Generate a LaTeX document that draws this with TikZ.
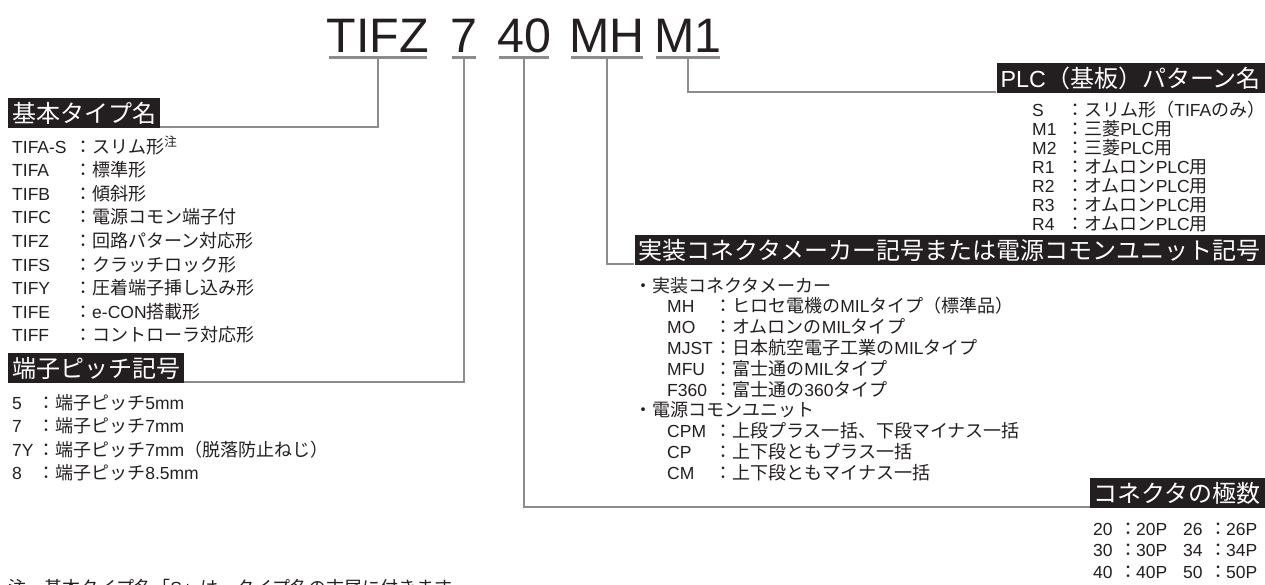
\documentclass[tikz,border=0pt]{standalone}
\usepackage{fontspec}
\setmainfont{Liberation Sans}
\newfontfamily\jp[Scale=1.03]{Noto Sans CJK JP}
\usetikzlibrary{calc}
\definecolor{ink}{HTML}{231F20}
\definecolor{leadgray}{HTML}{8C8C8C}

\begin{document}
\begin{tikzpicture}[x=1pt,y=-1pt,
    code/.style={font=\fontsize{48.4}{48.4}\selectfont, text=ink, inner sep=0pt, anchor=base},
    head/.style={fill=ink, text=white, font=\fontsize{23.3}{23.3}\selectfont, inner xsep=4pt, inner ysep=0pt, text height=24pt, text depth=6pt},
    item/.style={font=\fontsize{17.5}{20}\selectfont, text=ink, inner sep=0pt, anchor=base west},
    leader/.style={draw=leadgray, line width=2.6pt},
    underline/.style={leader, shorten <=2pt, shorten >=2pt}]
            \useasboundingbox (0,0) rectangle (1265,584);

            % Draw the type code
            \node[code] (code-type) at (378,52) {TIFZ};
            \node[code] (code-pitch) at (464,52) {7};
            \node[code] (code-poles) at (524,52) {40};
            \node[code] (code-maker) at (607,52) {MH};
            \node[code] (code-plc) at (688,52) {M1};
            \draw[underline] ([yshift=-5.5pt]code-type.base west) -- coordinate (u-type) ([yshift=-5.5pt]code-type.base east);
            \draw[underline] ([yshift=-5.5pt]code-pitch.base west) -- coordinate (u-pitch) ([yshift=-5.5pt]code-pitch.base east);
            \draw[underline] ([yshift=-5.5pt]code-poles.base west) -- coordinate (u-poles) ([yshift=-5.5pt]code-poles.base east);
            \draw[underline] ([yshift=-5.5pt]code-maker.base west) -- coordinate (u-maker) ([yshift=-5.5pt]code-maker.base east);
            \draw[underline] ([yshift=-5.5pt]code-plc.base west) -- coordinate (u-plc) ([yshift=-5.5pt]code-plc.base east);

            % Draw the headings
            \node[head, anchor=north west] (head-type) at (8,98) {\jp 基本タイプ名};
            \node[head, anchor=north west] (head-pitch) at (8,353) {\jp 端子ピッチ記号};
            \node[head, anchor=north east] (head-plc) at (1265,63) {PLC{\jp （基板）パターン名}};
            \node[head, anchor=north east] (head-maker) at (1265,235) {\jp 実装コネクタメーカー記号または電源コモンユニット記号};
            \node[head, anchor=north east] (head-poles) at (1265,478) {\jp コネクタの極数};

            % Draw the leaders
            \draw[leader] (u-type) |- ([yshift=1.3pt]head-type.south east);
            \draw[leader] (u-pitch) |- ([yshift=1.3pt]head-pitch.south east);
            \draw[leader] (u-poles) |- ([yshift=1.3pt]head-poles.south west);
            \draw[leader] (u-maker) |- ([yshift=1.3pt]head-maker.south west);
            \draw[leader] (u-plc) |- ([yshift=1.3pt]head-plc.south west);

            % Label the basic types
            \node[item] (type-as) at (12,153) {\makebox[62pt][l]{TIFA-S}\makebox[18pt]{\jp ：}{\jp スリム形}\textsuperscript{\jp 注}};
            \node[item] (type-a) at (12,176.6) {\makebox[62pt][l]{TIFA}\makebox[18pt]{\jp ：}{\jp 標準形}};
            \node[item] (type-b) at (12,200.2) {\makebox[62pt][l]{TIFB}\makebox[18pt]{\jp ：}{\jp 傾斜形}};
            \node[item] (type-c) at (12,223.8) {\makebox[62pt][l]{TIFC}\makebox[18pt]{\jp ：}{\jp 電源コモン端子付}};
            \node[item] (type-z) at (12,247.4) {\makebox[62pt][l]{TIFZ}\makebox[18pt]{\jp ：}{\jp 回路パターン対応形}};
            \node[item] (type-s) at (12,271) {\makebox[62pt][l]{TIFS}\makebox[18pt]{\jp ：}{\jp クラッチロック形}};
            \node[item] (type-y) at (12,294.6) {\makebox[62pt][l]{TIFY}\makebox[18pt]{\jp ：}{\jp 圧着端子挿し込み形}};
            \node[item] (type-e) at (12,318.2) {\makebox[62pt][l]{TIFE}\makebox[18pt]{\jp ：}e-CON{\jp 搭載形}};
            \node[item] (type-f) at (12,341.8) {\makebox[62pt][l]{TIFF}\makebox[18pt]{\jp ：}{\jp コントローラ対応形}};

            % Label the pitches
            \node[item] (pitch-5) at (12,409) {\makebox[25pt][l]{5}\makebox[18pt]{\jp ：}{\jp 端子ピッチ}5mm};
            \node[item] (pitch-7) at (12,432.6) {\makebox[25pt][l]{7}\makebox[18pt]{\jp ：}{\jp 端子ピッチ}7mm};
            \node[item] (pitch-7y) at (12,456.2) {\makebox[25pt][l]{7Y}\makebox[18pt]{\jp ：}{\jp 端子ピッチ}7mm{\jp （脱落防止ねじ）}};
            \node[item] (pitch-8) at (12,479.8) {\makebox[25pt][l]{8}\makebox[18pt]{\jp ：}{\jp 端子ピッチ}8.5mm};

            % Label the PLC patterns
            \node[item] (plc-s) at (1032,116) {\makebox[34pt][l]{S}\makebox[18pt]{\jp ：}{\jp スリム形（}TIFA{\jp のみ）}};
            \node[item] (plc-m1) at (1032,135) {\makebox[34pt][l]{M1}\makebox[18pt]{\jp ：}{\jp 三菱}PLC{\jp 用}};
            \node[item] (plc-m2) at (1032,154) {\makebox[34pt][l]{M2}\makebox[18pt]{\jp ：}{\jp 三菱}PLC{\jp 用}};
            \node[item] (plc-r1) at (1032,173) {\makebox[34pt][l]{R1}\makebox[18pt]{\jp ：}{\jp オムロン}PLC{\jp 用}};
            \node[item] (plc-r2) at (1032,192) {\makebox[34pt][l]{R2}\makebox[18pt]{\jp ：}{\jp オムロン}PLC{\jp 用}};
            \node[item] (plc-r3) at (1032,211) {\makebox[34pt][l]{R3}\makebox[18pt]{\jp ：}{\jp オムロン}PLC{\jp 用}};
            \node[item] (plc-r4) at (1032,230) {\makebox[34pt][l]{R4}\makebox[18pt]{\jp ：}{\jp オムロン}PLC{\jp 用}};

            % Label the makers and common units
            \node[item] (maker-mil) at (634,292) {\jp ・実装コネクタメーカー};
            \node[item] (maker-mh) at (667,312.8) {\makebox[47pt][l]{MH}\makebox[18pt]{\jp ：}{\jp ヒロセ電機の}MIL{\jp タイプ（標準品）}};
            \node[item] (maker-mo) at (667,333.6) {\makebox[47pt][l]{MO}\makebox[18pt]{\jp ：}{\jp オムロンの}MIL{\jp タイプ}};
            \node[item] (maker-mjst) at (667,354.4) {\makebox[47pt][l]{MJST}\makebox[18pt]{\jp ：}{\jp 日本航空電子工業の}MIL{\jp タイプ}};
            \node[item] (maker-mfu) at (667,375.2) {\makebox[47pt][l]{MFU}\makebox[18pt]{\jp ：}{\jp 富士通の}MIL{\jp タイプ}};
            \node[item] (maker-f360) at (667,396) {\makebox[47pt][l]{F360}\makebox[18pt]{\jp ：}{\jp 富士通の}360{\jp タイプ}};
            \node[item] (maker-common) at (634,416.8) {\jp ・電源コモンユニット};
            \node[item] (maker-cpm) at (667,437.6) {\makebox[47pt][l]{CPM}\makebox[18pt]{\jp ：}{\jp 上段プラス一括、下段マイナス一括}};
            \node[item] (maker-cp) at (667,458.4) {\makebox[47pt][l]{CP}\makebox[18pt]{\jp ：}{\jp 上下段ともプラス一括}};
            \node[item] (maker-cm) at (667,479.2) {\makebox[47pt][l]{CM}\makebox[18pt]{\jp ：}{\jp 上下段ともマイナス一括}};

            % Label the pole counts
            \node[item] (poles-1) at (1093,535) {\makebox[27pt][l]{20}\makebox[16pt]{\jp ：}\makebox[47pt][l]{20P}\makebox[27pt][l]{26}\makebox[16pt]{\jp ：}26P};
            \node[item] (poles-2) at (1093,556.5) {\makebox[27pt][l]{30}\makebox[16pt]{\jp ：}\makebox[47pt][l]{30P}\makebox[27pt][l]{34}\makebox[16pt]{\jp ：}34P};
            \node[item] (poles-3) at (1093,578) {\makebox[27pt][l]{40}\makebox[16pt]{\jp ：}\makebox[47pt][l]{40P}\makebox[27pt][l]{50}\makebox[16pt]{\jp ：}50P};

            % Note
            \node[item] (note) at (8,594) {\jp 注　基本タイプ名「\rmfamily S\jp 」は、タイプ名の末尾に付きます。};
        \end{tikzpicture}
\end{document}
